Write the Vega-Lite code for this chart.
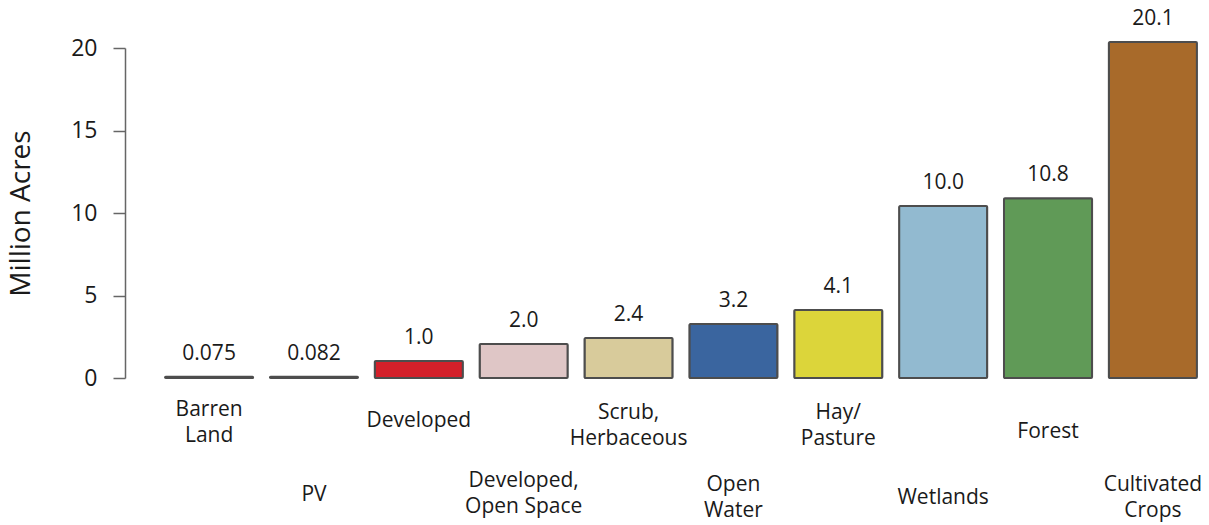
{
  "$schema": "https://vega.github.io/schema/vega-lite/v6.json",
  "width": 1056,
  "height": 330,
  "autosize": {"type": "none"},
  "padding": {"left": 153, "top": 48, "right": 0, "bottom": 147},
  "background": "white",
  "config": {"view": {"stroke": null}, "font": "Open Sans"},
  "data": {"values": [
    {"cover": "Barren Land", "acres": 0.075, "label": "0.075", "color": "#8a8a8a"},
    {"cover": "PV", "acres": 0.082, "label": "0.082", "color": "#8c7c84"},
    {"cover": "Developed", "acres": 1.03, "label": "1.0", "color": "#d3202a"},
    {"cover": "Developed, Open Space", "acres": 2.06, "label": "2.0", "color": "#dfc6c6"},
    {"cover": "Scrub, Herbaceous", "acres": 2.42, "label": "2.4", "color": "#d8cb9b"},
    {"cover": "Open Water", "acres": 3.27, "label": "3.2", "color": "#3a659f"},
    {"cover": "Hay/Pasture", "acres": 4.12, "label": "4.1", "color": "#dcd53a"},
    {"cover": "Wetlands", "acres": 10.42, "label": "10.0", "color": "#92bad0"},
    {"cover": "Forest", "acres": 10.9, "label": "10.8", "color": "#609a57"},
    {"cover": "Cultivated Crops", "acres": 20.36, "label": "20.1", "color": "#a86a2a"}
  ]},
  "encoding": {
    "x": {
      "field": "cover", "type": "nominal", "sort": null,
      "scale": {"paddingInner": 0.16, "paddingOuter": 0.115},
      "axis": {
        "title": null, "domain": false, "ticks": false, "labelAngle": 0,
        "labelBaseline": "top", "labelFontSize": 21,
        "labelColor": "#1a1a1a", "labelLineHeight": 26, "labelLimit": 0,
        "labelExpr": "datum.value == 'Barren Land' ? ['Barren','Land'] : datum.value == 'Developed, Open Space' ? ['Developed,','Open Space'] : datum.value == 'Scrub, Herbaceous' ? ['Scrub,','Herbaceous'] : datum.value == 'Open Water' ? ['Open','Water'] : datum.value == 'Hay/Pasture' ? ['Hay/','Pasture'] : datum.value == 'Cultivated Crops' ? ['Cultivated','Crops'] : datum.value",
        "labelPadding": {
          "condition": [
            {"test": "datum.value == 'Barren Land'", "value": 20},
            {"test": "datum.value == 'PV'", "value": 105},
            {"test": "datum.value == 'Developed'", "value": 31},
            {"test": "datum.value == 'Developed, Open Space'", "value": 91},
            {"test": "datum.value == 'Scrub, Herbaceous'", "value": 23},
            {"test": "datum.value == 'Open Water'", "value": 95},
            {"test": "datum.value == 'Hay/Pasture'", "value": 23},
            {"test": "datum.value == 'Wetlands'", "value": 108},
            {"test": "datum.value == 'Forest'", "value": 42}
          ],
          "value": 95
        }
      }
    },
    "y": {
      "field": "acres", "type": "quantitative",
      "scale": {"domain": [0, 20], "nice": false},
      "axis": {
        "title": "Million Acres", "titleFontSize": 28, "titleFontWeight": "normal",
        "titleColor": "#1a1a1a", "titlePadding": 35,
        "values": [0, 5, 10, 15, 20], "grid": false, "offset": 28,
        "domainColor": "#666666", "domainWidth": 1.5, "tickColor": "#666666",
        "tickWidth": 1.5, "tickSize": 12, "labelFontSize": 23,
        "labelColor": "#1a1a1a", "labelPadding": 16
      }
    }
  },
  "layer": [
    {
      "mark": {"type": "bar", "stroke": "#4d4d4d", "strokeWidth": 2, "cornerRadius": 1},
      "encoding": {"color": {"field": "color", "type": "nominal", "scale": null}}
    },
    {
      "mark": {"type": "text", "baseline": "bottom", "dy": -13, "fontSize": 21, "color": "#1a1a1a"},
      "encoding": {"text": {"field": "label"}}
    }
  ]
}
